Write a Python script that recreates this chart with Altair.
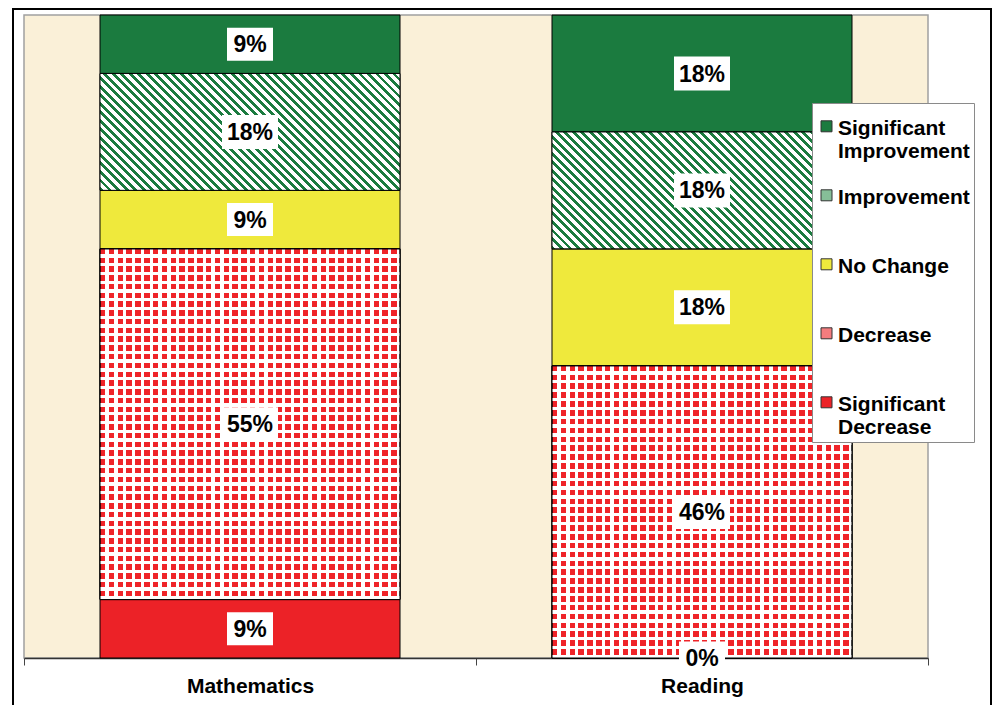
import altair as alt
import pandas as pd

# ---------------- data ----------------
subjects = ["Mathematics", "Reading"]
categories = ["Significant Decrease", "Decrease", "No Change", "Improvement", "Significant Improvement"]
math_values = [9.09, 54.55, 9.09, 18.18, 9.09]
reading_values = [0.0, 45.45, 18.18, 18.18, 18.18]
math_labels = ["9%", "55%", "9%", "18%", "9%"]
reading_labels = ["0%", "46%", "18%", "18%", "18%"]
legend_order = ["Significant Improvement", "Improvement", "No Change", "Decrease", "Significant Decrease"]
legend_colors = ["#1b7b3f", "#86bf98", "#efe93c", "#f47c7e", "#ec2227"]

rows = []
for subj, vals, labs in [("Mathematics", math_values, math_labels),
                         ("Reading", reading_values, reading_labels)]:
    for i, (c, v, l) in enumerate(zip(categories, vals, labs)):
        rows.append(dict(subject=subj, category=c, value=v, label=l, order=i))
df = pd.DataFrame(rows)

# ---------------- style helpers ----------------
PLOT_W, PLOT_H = 904, 643
BAR_W = 300
GREEN = "#1b7b3f"
RED = "#ef2429"
CLEAR = "rgba(255,255,255,0)"


def stripe_stops(n, frac, c_on, c_off):
    stops = []
    for i in range(n):
        a = round(i / n, 5)
        b = round((i + frac) / n, 5)
        e = round((i + 1) / n, 5)
        stops += [alt.GradientStop(offset=a, color=c_on),
                  alt.GradientStop(offset=b, color=c_on),
                  alt.GradientStop(offset=b, color=c_off),
                  alt.GradientStop(offset=min(e, 1.0), color=c_off)]
    return stops


# diagonal "\\" stripes for Improvement (45 degrees in pixel space)
h_imp = math_values[3] / 100 * PLOT_H
k = (BAR_W + h_imp) / (BAR_W ** 2 + h_imp ** 2)
n_diag = round((BAR_W + h_imp) / 8.5)
imp_grad = alt.LinearGradient(
    gradient="linear", x1=0, y1=1, x2=round(k * BAR_W, 5), y2=round(1 - k * h_imp, 5),
    stops=stripe_stops(n_diag, 0.45, GREEN, "white"))

# dotted pattern for Decrease = red columns x white rows
DOT = 0.62
dec_col_grad = alt.LinearGradient(
    gradient="linear", x1=0, y1=0, x2=1, y2=0,
    stops=stripe_stops(round(BAR_W / 8.8), DOT, RED, "white"))


def row_grad(value):
    h = value / 100 * PLOT_H
    n = max(1, round(h / 8.8))
    return alt.LinearGradient(gradient="linear", x1=0, y1=0, x2=0, y2=1,
                              stops=stripe_stops(n, DOT, CLEAR, "white"))


FONT = "Liberation Sans"

base = alt.Chart(df).transform_stack(
    stack="value", groupby=["subject"],
    sort=[alt.SortField("order", order="ascending")], as_=["y0", "y1"]
).transform_calculate(mid="(datum.y0 + datum.y1) / 2")

x_enc = alt.X(
    "subject:N", sort=subjects, title=None,
    scale=alt.Scale(paddingInner=0, paddingOuter=0),
    axis=alt.Axis(labelFont=FONT, labelFontSize=21, labelFontWeight="bold",
                  labelColor="black", labelAngle=0, labelPadding=10,
                  domainColor="#333333", domainWidth=1.5, tickColor="#444444",
                  tickSize=7, tickBand="extent", grid=False))
y_scale = alt.Scale(domain=[0, 100], nice=False, zero=True)
y_enc = alt.Y("y0:Q", scale=y_scale, axis=None)
y2_enc = alt.Y2("y1:Q")

legend = alt.Legend(
    orient="none", legendX=788, legendY=88, direction="vertical",
    fillColor="white", strokeColor="#8a8a8a", padding=4,
    symbolType="M-1,0.6L1,0.6L1,2.6L-1,2.6Z", symbolSize=121,
    symbolStrokeColor="#333333", symbolStrokeWidth=1,
    labelFont=FONT, labelFontSize=21, labelFontWeight="bold", labelColor="black",
    labelBaseline="top", labelOffset=1, labelLimit=300,
    labelExpr=("datum.label == 'Significant Improvement' ? ['Significant', 'Improvement'] : "
               "datum.label == 'Significant Decrease' ? ['Significant', 'Decrease'] : datum.label"),
    gridAlign="all", rowPadding=14)

bars = base.mark_bar(stroke="black", strokeWidth=1, width=BAR_W).encode(
    x=x_enc, y=y_enc, y2=y2_enc,
    color=alt.Color("category:N", title=None,
                    scale=alt.Scale(domain=legend_order, range=legend_colors),
                    legend=legend))

imp_ov = base.transform_filter("datum.category == 'Improvement'").mark_bar(
    fill=imp_grad, stroke="black", strokeWidth=1, width=BAR_W).encode(x=x_enc, y=y_enc, y2=y2_enc)

dec_cols = base.transform_filter("datum.category == 'Decrease'").mark_bar(
    fill=dec_col_grad, stroke="black", strokeWidth=1, width=BAR_W).encode(x=x_enc, y=y_enc, y2=y2_enc)

dec_rows_m = base.transform_filter(
    "datum.category == 'Decrease' && datum.subject == 'Mathematics'").mark_bar(
    fill=row_grad(math_values[1]), stroke="black", strokeWidth=1, width=BAR_W).encode(
    x=x_enc, y=y_enc, y2=y2_enc)

dec_rows_r = base.transform_filter(
    "datum.category == 'Decrease' && datum.subject == 'Reading'").mark_bar(
    fill=row_grad(reading_values[1]), stroke="black", strokeWidth=1, width=BAR_W).encode(
    x=x_enc, y=y_enc, y2=y2_enc)

y_mid = alt.Y("mid:Q", scale=y_scale, axis=None)

box2 = base.transform_filter("length(datum.label) <= 2").mark_point(
    shape="M-0.23,-0.165L0.23,-0.165L0.23,0.165L-0.23,0.165Z", size=40000,
    filled=True, fill="white", opacity=1, strokeWidth=0).encode(x=x_enc, y=y_mid)

box3 = base.transform_filter("length(datum.label) > 2").mark_point(
    shape="M-0.28,-0.17L0.28,-0.17L0.28,0.17L-0.28,0.17Z", size=40000,
    filled=True, fill="white", opacity=1, strokeWidth=0).encode(x=x_enc, y=y_mid)

text = base.mark_text(font=FONT, fontSize=23, fontWeight="bold", color="black",
                      baseline="middle", dy=1).encode(x=x_enc, y=y_mid, text="label:N")

frame = alt.Chart(pd.DataFrame({"f": [0]})).mark_rect(
    fillOpacity=0, stroke="black", strokeWidth=2).encode(
    x=alt.value(-11), x2=alt.value(967), y=alt.value(-6), y2=alt.value(720))

chart = alt.layer(bars, imp_ov, dec_cols, dec_rows_m, dec_rows_r, box2, box3, text, frame).properties(
    width=PLOT_W, height=PLOT_H,
    padding={"left": 16, "top": 7, "right": 64, "bottom": 47},
    autosize=alt.AutoSizeParams(type="none"),
    background="white",
).configure_view(fill="#faf0d8", stroke="#a0a0a0", strokeWidth=1.5)

chart.save("out.html", embed_options={"renderer": "svg", "actions": False})
